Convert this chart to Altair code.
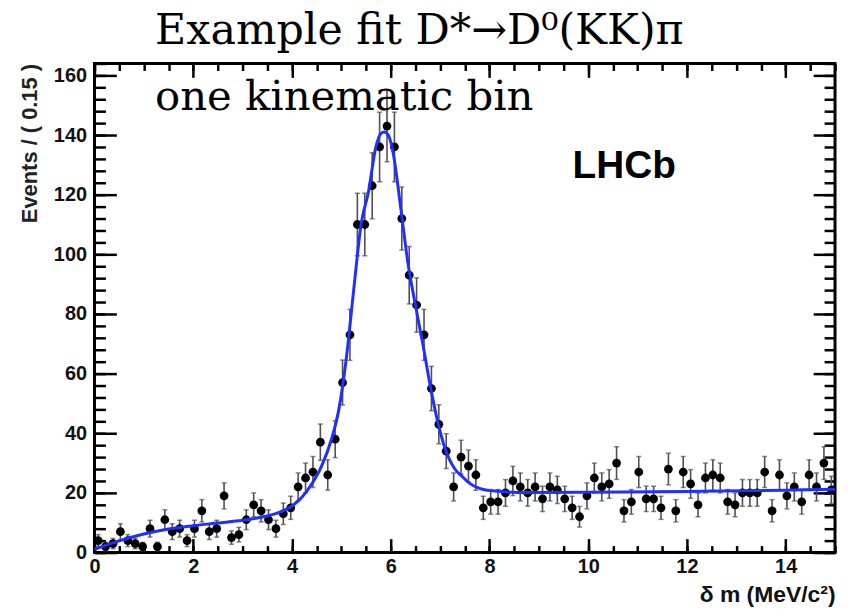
import altair as alt
import pandas as pd

# ---- data ----
bin_centers = [round(0.075 + 0.15 * i, 3) for i in range(100)]
counts = [
    4, 2, 3, 7, 4, 3, 2, 8, 2, 11,
    7, 8, 4, 8, 14, 7, 8, 19, 5, 6,
    11, 16, 14, 11, 8, 13, 15, 22, 25, 27,
    37, 26, 38, 57, 73, 110, 110, 123, 136, 143,
    136, 112, 93, 83, 73, 55, 43, 34, 22, 32,
    29, 26, 15, 17, 17, 20, 24, 22, 20, 22,
    18, 22, 21, 18, 15, 12, 19, 25, 22, 23,
    30, 14, 17, 27, 18, 18, 15, 28, 14, 27,
    23, 16, 25, 26, 25, 17, 16, 20, 20, 20,
    27, 14, 26, 19, 22, 17, 26, 22, 30, 21,
]
curve_x = [0, 0.5, 1.0, 1.5, 2.0, 2.5, 3.0, 3.3, 3.7, 4.0, 4.2, 4.4, 4.6, 4.8,
           4.95, 5.1, 5.25, 5.4, 5.55, 5.7, 5.8, 5.87, 5.95, 6.05, 6.2, 6.35,
           6.5, 6.65, 6.8, 6.95, 7.1, 7.3, 7.45, 7.6, 7.8, 8.1, 8.8, 10, 12, 14, 15]
curve_y = [1.1, 3.9, 6.2, 7.9, 9.0, 9.9, 10.8, 11.6, 13.2, 15.6, 18.5, 23, 29, 38,
           48, 65, 88, 110, 121, 136, 140.5, 141, 140, 134, 116, 97,
           83, 70, 56, 44, 35, 28, 25.5, 23.2, 21.5, 20.6, 20.1, 20.2, 20.5, 20.9, 21.2]
title_lines = ["Example fit D*\u2192D\u2070(KK)\u03c0", "one kinematic bin"]
experiment = ["LHCb"]
x_title = "\u03b4 m (MeV/c\u00b2)"
y_title = "Events / ( 0.15 )"
x_major = [0, 2, 4, 6, 8, 10, 12, 14]
x_minor = [i * 0.5 for i in range(31)]
y_major = [0, 20, 40, 60, 80, 100, 120, 140, 160]
y_minor = [i * 4 for i in range(42)]

data = pd.DataFrame({"x": bin_centers, "n": counts})
fit = pd.DataFrame({"x": curve_x, "y": curve_y})

xs = alt.Scale(domain=[0, 15], nice=False, zero=False)
ys = alt.Scale(domain=[0, 164], nice=False, zero=False)

LABEL_FONT = "Liberation Sans"


def axis(orient, values, size, labels=False, title=None, **kw):
    opts = dict(
        orient=orient, values=values, tickSize=size, offset=-size,
        domain=False, grid=False, ticks=True, labels=labels,
        tickColor="black", tickWidth=2.5, title=title,
        labelFlush=False, labelOverlap=False,
    )
    if labels:
        opts.update(labelFont=LABEL_FONT, labelFontWeight="bold",
                    labelFontSize=20, labelColor="#111111")
    opts.update(kw)
    return alt.Axis(**opts)


err_base = alt.Chart(data).transform_calculate(
    lo="datum.n - sqrt(datum.n)", hi="datum.n + sqrt(datum.n)"
)

err = err_base.mark_rule(color="#505050", strokeWidth=1.6).encode(
    x=alt.X("x:Q", scale=xs, axis=axis("bottom", x_minor, 7)),
    y=alt.Y("lo:Q", scale=ys, axis=axis("left", y_minor, 11)),
    y2="hi:Q",
)
cap_hi = err_base.mark_tick(orient="horizontal", size=5, thickness=1.5, color="#505050").encode(
    x=alt.X("x:Q", scale=xs, axis=axis("top", x_minor, 7)),
    y=alt.Y("hi:Q", scale=ys, axis=axis("right", y_minor, 11)),
)
cap_lo = err_base.mark_tick(orient="horizontal", size=5, thickness=1.5, color="#505050").encode(
    x=alt.X("x:Q", scale=xs, axis=None),
    y=alt.Y("lo:Q", scale=ys, axis=None),
)
pts = alt.Chart(data).mark_circle(size=78, color="black", opacity=1).encode(
    x=alt.X("x:Q", scale=xs, axis=axis(
        "bottom", x_major, 14, labels=True, title=x_title, labelPadding=4,
        titleAnchor="end", titleFont=LABEL_FONT, titleFontWeight="bold",
        titleFontSize=23, titleColor="#111111", titlePadding=7)),
    y=alt.Y("n:Q", scale=ys, axis=axis(
        "left", y_major, 22, labels=True, title=y_title, labelPadding=8,
        titleAnchor="end", titleFont=LABEL_FONT, titleFontWeight="bold",
        titleFontSize=22, titleColor="#222222", titlePadding=12)),
)
fit_line = alt.Chart(fit).mark_line(color="#1f2fff", strokeWidth=3, interpolate="monotone").encode(
    x=alt.X("x:Q", scale=xs, axis=axis("top", x_major, 14)),
    y=alt.Y("y:Q", scale=ys, axis=axis("right", y_major, 22)),
)

t1 = alt.Chart(pd.DataFrame({"t": [title_lines[0]]})).mark_text(
    align="left", baseline="alphabetic", font="DejaVu Serif", fontSize=43, color="black"
).encode(text="t:N", x=alt.value(61), y=alt.value(-20))
t2 = alt.Chart(pd.DataFrame({"t": [title_lines[1]]})).mark_text(
    align="left", baseline="alphabetic", font="DejaVu Serif", fontSize=42, color="black"
).encode(text="t:N", x=alt.value(61), y=alt.value(47))
lhcb = alt.Chart(pd.DataFrame({"t": experiment})).mark_text(
    align="left", baseline="alphabetic", font=LABEL_FONT, fontWeight="bold", fontSize=39, color="black"
).encode(text="t:N", x=alt.value(481), y=alt.value(115))

chart = alt.layer(err, cap_hi, cap_lo, pts, fit_line, t1, t2, lhcb).resolve_axis(
    x="independent", y="independent"
).properties(
    width=745, height=492,
    autosize=alt.AutoSizeParams(type="none"),
    padding={"left": 87, "top": 54, "right": 5, "bottom": 55},
).configure_view(stroke="black", strokeWidth=3)

chart.save("out.html", embed_options={"renderer": "svg", "actions": False})
